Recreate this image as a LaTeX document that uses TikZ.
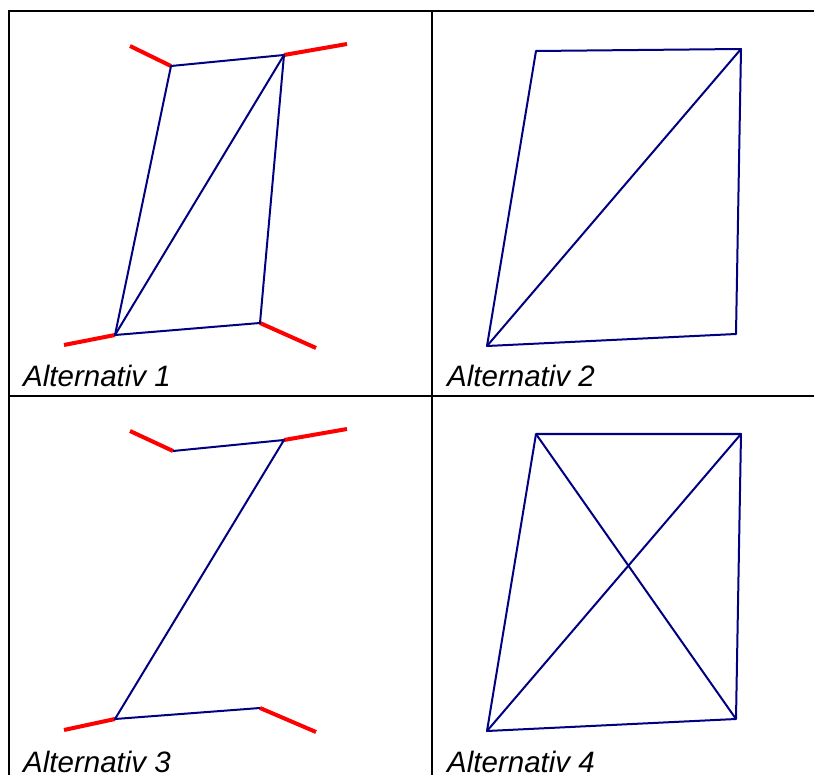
\documentclass[tikz,border=0pt]{standalone}
\usepackage{fontspec}
\setmainfont{Liberation Sans}
\usepackage{xcolor}
\usepackage{tikz}
\usetikzlibrary{positioning, calc}
\definecolor{barblue}{RGB}{0,0,128}

\begin{document}
\begin{tikzpicture}[
    x=1pt, y=-1pt,
    grid/.style={black, line width=2.2pt},
    bar/.style={barblue, line width=2pt, line join=round},
    support/.style={red, line width=4pt},
    caption/.style={anchor=base west, inner sep=0pt, font=\itshape\fontsize{29.5}{32}\selectfont}
]
    \useasboundingbox (0,0) rectangle (814,775);
    % table lines
    \coordinate (tl) at (9,11);
    \coordinate (tr) at (814,11);
    \coordinate (bl) at (9,775);
    \coordinate (mt) at (432,11);
    \coordinate (mb) at (432,775);
    \coordinate (ml) at (9,396);
    \coordinate (mr) at (814,396);
    \draw[grid] (bl) -- (tl) -- (tr);
    \draw[grid] (mt) -- (mb);
    \draw[grid] (ml) -- (mr);

    % Alternativ 1
    \coordinate (a1) at (171,66);
    \coordinate (b1) at (284,55);
    \coordinate (c1) at (260,323);
    \coordinate (d1) at (115,335);
    \coordinate (ra1) at (130,46);
    \coordinate (rb1) at (347,44);
    \coordinate (rc1) at (316,348);
    \coordinate (rd1) at (64,345);
    \draw[support] (ra1) -- (a1);
    \draw[support] (b1) -- (rb1);
    \draw[support] (c1) -- (rc1);
    \draw[support] (rd1) -- (d1);
    \draw[bar] (a1) -- (b1) -- (c1) -- (d1) -- cycle;
    \draw[bar] (d1) -- (b1);
    \node[caption] (alt1) at (23,387) {Alternativ 1};

    % Alternativ 2
    \coordinate (a2) at (536,51);
    \coordinate (b2) at (741,49);
    \coordinate (c2) at (736,334);
    \coordinate (d2) at (487,346);
    \draw[bar] (a2) -- (b2) -- (c2) -- (d2) -- cycle;
    \draw[bar] (d2) -- (b2);
    \node[caption] (alt2) at (447,387) {Alternativ 2};

    % Alternativ 3
    \coordinate (a3) at (173,451);
    \coordinate (b3) at (284,440);
    \coordinate (c3) at (260,708);
    \coordinate (d3) at (115,719);
    \coordinate (ra3) at (130,431);
    \coordinate (rb3) at (347,429);
    \coordinate (rc3) at (316,732);
    \coordinate (rd3) at (64,730);
    \draw[support] (ra3) -- (a3);
    \draw[support] (b3) -- (rb3);
    \draw[support] (c3) -- (rc3);
    \draw[support] (rd3) -- (d3);
    \draw[bar] (a3) -- (b3) -- (d3) -- (c3);
    \node[caption] (alt3) at (23,772) {Alternativ 3};

    % Alternativ 4
    \coordinate (a4) at (536,434);
    \coordinate (b4) at (741,434);
    \coordinate (c4) at (736,719);
    \coordinate (d4) at (487,731);
    \draw[bar] (a4) -- (b4) -- (c4) -- (d4) -- cycle;
    \draw[bar] (d4) -- (b4);
    \draw[bar] (a4) -- (c4);
    \node[caption] (alt4) at (447,772) {Alternativ 4};
\end{tikzpicture}
\end{document}
